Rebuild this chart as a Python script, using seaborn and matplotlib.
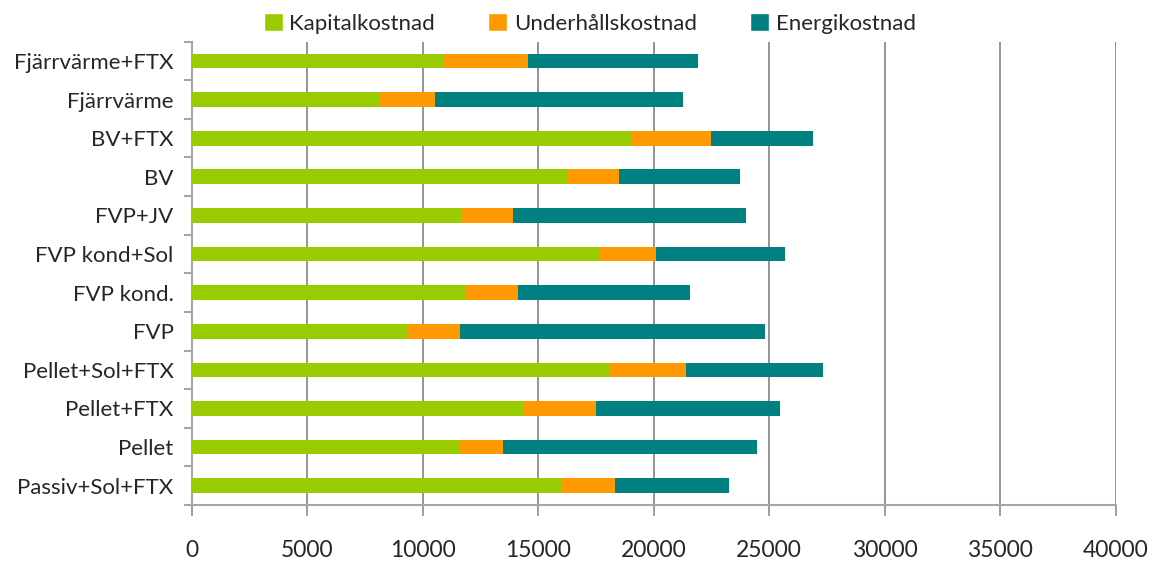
import numpy as np
import pandas as pd
import matplotlib
matplotlib.use("Agg")
import matplotlib.pyplot as plt
from matplotlib.patches import Patch
import seaborn as sns

# ---------------------------------------------------------------------------
# Data (SEK per year)
# ---------------------------------------------------------------------------
systems = [
    "Fjärrvärme+FTX", "Fjärrvärme", "BV+FTX", "BV", "FVP+JV", "FVP kond+Sol",
    "FVP kond.", "FVP", "Pellet+Sol+FTX", "Pellet+FTX", "Pellet", "Passiv+Sol+FTX",
]
kapital = [10880, 8110, 19050, 16300, 11680, 17670, 11880, 9320, 18070, 14390, 11620, 16020]
underhall = [3680, 2430, 3440, 2200, 2230, 2440, 2250, 2300, 3330, 3120, 1860, 2310]
energi = [7360, 10730, 4410, 5240, 10090, 5580, 7450, 13200, 5930, 7970, 11000, 4940]

labels = ["Kapitalkostnad", "Underhållskostnad", "Energikostnad"]
colors = ["#99CC00", "#FF9900", "#008080"]

df = pd.DataFrame({
    "system": systems,
    "kapital": kapital,
    "underhall": underhall,
    "energi": energi,
})
df["cum1"] = df["kapital"]
df["cum2"] = df["kapital"] + df["underhall"]
df["cum3"] = df["cum2"] + df["energi"]

# ---------------------------------------------------------------------------
# Plot
# ---------------------------------------------------------------------------
sns.set_style("white")
plt.rcParams["font.family"] = ["Lato", "DejaVu Sans"]

fig = plt.figure(figsize=(11.54, 5.63), dpi=100)
ax = fig.add_axes([0.166, 0.103, 0.801, 0.823])

# stacked bars: draw the totals first, then cover with the partial sums
for col, c in zip(["cum3", "cum2", "cum1"], colors[::-1]):
    sns.barplot(data=df, x=col, y="system", orient="h", color=c,
                width=0.38, saturation=1, linewidth=0, edgecolor="none",
                ax=ax, zorder=3)

ax.set_xlim(0, 40000)
ax.set_ylim(11.5, -0.5)
ax.set_xticks(np.arange(0, 40001, 5000))
ax.set_xlabel("")
ax.set_ylabel("")

ax.grid(axis="x", color="#8c8c8c", linewidth=1.3, zorder=0)
ax.grid(axis="y", visible=False)

for s in ["top", "right"]:
    ax.spines[s].set_visible(False)
for s in ["left", "bottom"]:
    ax.spines[s].set_color("#a6a6a6")
    ax.spines[s].set_linewidth(1.5)

# y tick marks between categories
ax.set_yticks(np.arange(-0.5, 12, 1), minor=True)
ax.tick_params(axis="y", which="minor", length=6, color="#a6a6a6", width=1.5, left=True)
ax.tick_params(axis="y", which="major", length=0, labelsize=16, pad=13)
ax.tick_params(axis="x", length=8, color="#8c8c8c", width=1.2, labelsize=16.5, pad=17,
               bottom=True)

handles = [Patch(facecolor=c, label=l) for c, l in zip(colors, labels)]
fig.legend(handles=handles, loc="center", bbox_to_anchor=(0.511, 0.958), ncol=3,
           frameon=False, fontsize=16, handlelength=0.85, handleheight=0.85,
           handletextpad=0.3, columnspacing=2.4)

plt.savefig("out.png", dpi=100)
